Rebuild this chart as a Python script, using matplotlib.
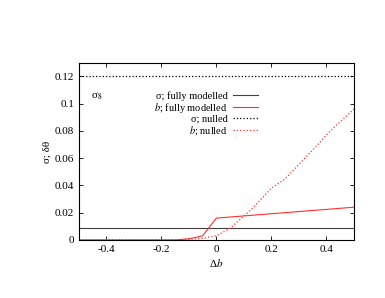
import numpy as np
import matplotlib
matplotlib.use('Agg')
import matplotlib.pyplot as plt

plt.rcParams['font.family'] = ['Liberation Serif', 'DejaVu Serif']
plt.rcParams['mathtext.fontset'] = 'stix'

# 数据
db_sigma = [-0.5, 0.5]
sigma_full = [0.0085, 0.0085]
sigma_null = [0.12, 0.12]

db_b_full = [-0.5, -0.15, -0.1, -0.05, 0.0, 0.5]
b_full = [0.0, 0.0, 0.0008, 0.003, 0.016, 0.024]

db_b_null = [-0.5, -0.15, -0.1, -0.05, 0.0, 0.05, 0.1, 0.132, 0.2, 0.249,
             0.316, 0.346, 0.413, 0.5]
b_null = [0.0, 0.0, 0.0004, 0.0012, 0.003, 0.0085, 0.0175, 0.0233, 0.038,
          0.0446, 0.0588, 0.065, 0.0797, 0.096]

fig = plt.figure(figsize=(3.85, 2.98), dpi=100)
ax = fig.add_axes([0.205, 0.195, 0.714, 0.594])

red = '#ff3030'
ax.plot(db_sigma, sigma_full, '-', color='#404040', lw=0.8, label='σ; fully modelled')
ax.plot(db_b_full, b_full, '-', color=red, lw=0.8, label=r'$b$; fully modelled')
ax.plot(db_sigma, sigma_null, ':', color='black', lw=0.9, label='σ; nulled')
ax.plot(db_b_null, b_null, ':', color=red, lw=0.9, label=r'$b$; nulled')

ax.set_xlim(-0.5, 0.5)
ax.set_ylim(0, 0.13)
ax.set_xticks([-0.4, -0.2, 0, 0.2, 0.4])
ax.set_xticklabels(['-0.4', '-0.2', '0', '0.2', '0.4'])
ax.set_yticks([0, 0.02, 0.04, 0.06, 0.08, 0.1, 0.12])
ax.set_yticklabels(['0', '0.02', '0.04', '0.06', '0.08', '0.1', '0.12'])
ax.tick_params(direction='in', top=True, right=True, labelsize=8, length=3, width=0.6)
for s in ax.spines.values():
    s.set_linewidth(0.8)

ax.set_xlabel(r'Δ$b$', fontsize=8, labelpad=2)
ax.set_ylabel('σ; δθ', fontsize=8, labelpad=2)
ax.text(0.045, 0.81, 'σ$_8$', transform=ax.transAxes, fontsize=8, va='center')

leg = ax.legend(loc='upper left', bbox_to_anchor=(0.255, 0.871), frameon=False,
                fontsize=7.5, markerfirst=False, handlelength=2.4,
                labelspacing=0.0, handletextpad=0.5, borderpad=0)
for t in leg.get_texts():
    t.set_ha('right')

plt.savefig('out.png', dpi=100)
